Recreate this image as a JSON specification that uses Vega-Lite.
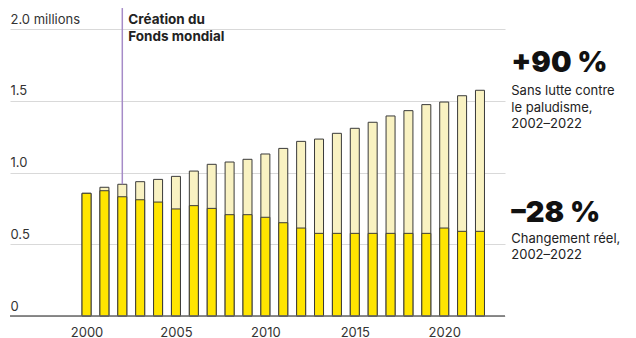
{
  "$schema": "https://vega.github.io/schema/vega-lite/v6.json",
  "width": 495,
  "height": 287,
  "autosize": {"type": "none"},
  "padding": {"left": 10, "top": 29, "right": 131, "bottom": 22},
  "background": "white",
  "config": {
    "view": {"stroke": null},
    "font": "Inter",
    "axis": {"labelFont": "Inter", "titleFont": "Inter"}
  },
  "datasets": {
    "bars": [
      {"year": 2000, "sans": 0.855, "reel": 0.855},
      {"year": 2001, "sans": 0.897, "reel": 0.873},
      {"year": 2002, "sans": 0.918, "reel": 0.831},
      {"year": 2003, "sans": 0.936, "reel": 0.81},
      {"year": 2004, "sans": 0.952, "reel": 0.794},
      {"year": 2005, "sans": 0.973, "reel": 0.746},
      {"year": 2006, "sans": 1.01, "reel": 0.769},
      {"year": 2007, "sans": 1.057, "reel": 0.75},
      {"year": 2008, "sans": 1.073, "reel": 0.706},
      {"year": 2009, "sans": 1.092, "reel": 0.706},
      {"year": 2010, "sans": 1.129, "reel": 0.688},
      {"year": 2011, "sans": 1.168, "reel": 0.65},
      {"year": 2012, "sans": 1.217, "reel": 0.613},
      {"year": 2013, "sans": 1.233, "reel": 0.576},
      {"year": 2014, "sans": 1.273, "reel": 0.576},
      {"year": 2015, "sans": 1.308, "reel": 0.576},
      {"year": 2016, "sans": 1.35, "reel": 0.576},
      {"year": 2017, "sans": 1.394, "reel": 0.576},
      {"year": 2018, "sans": 1.431, "reel": 0.576},
      {"year": 2019, "sans": 1.473, "reel": 0.576},
      {"year": 2020, "sans": 1.491, "reel": 0.613},
      {"year": 2021, "sans": 1.535, "reel": 0.59},
      {"year": 2022, "sans": 1.573, "reel": 0.59}
    ],
    "event": [
      {"year": 2002, "top": 2.146, "bottom": 0.918, "label": "Création du\nFonds mondial"}
    ],
    "big": [
      {"x": 2023.75, "y": 1.7, "label": "+90 %"},
      {"x": 2023.75, "y": 0.655, "label": "–28 %"}
    ],
    "small": [
      {"x": 2023.75, "y": 1.54, "label": "Sans lutte contre\nle paludisme,\n2002–2022"},
      {"x": 2023.75, "y": 0.51, "label": "Changement réel,\n2002–2022"}
    ]
  },
  "layer": [
    {
      "data": {"name": "bars"},
      "mark": {"type": "bar", "size": 9, "fill": "#f9f2c2", "stroke": "#3a3a3a", "strokeWidth": 1},
      "encoding": {
        "x": {
          "field": "year", "type": "quantitative",
          "scale": {"domain": [1996, 2023.12], "nice": false, "zero": false},
          "axis": {
            "title": null, "values": [2000, 2005, 2010, 2015, 2020], "format": "d",
            "grid": false, "ticks": false, "domain": false,
            "labelFontSize": 13, "labelColor": "#333", "labelPadding": 10
          }
        },
        "y": {
          "field": "sans", "type": "quantitative",
          "scale": {"domain": [0, 2], "nice": false},
          "axis": {
            "title": null, "values": [0, 0.5, 1, 1.5, 2],
            "labelExpr": "datum.value == 0 ? '0' : datum.value == 2 ? '2.0 millions' : format(datum.value, '.1f')",
            "grid": true, "gridColor": "#d9d9d9", "gridWidth": 1,
            "domain": false, "ticks": false, "tickSize": 0,
            "labelAlign": "left", "labelBaseline": "bottom", "labelPadding": 0,
            "labelOffset": -3, "labelFontSize": 13, "labelColor": "#333"
          }
        }
      }
    },
    {
      "data": {"name": "bars"},
      "mark": {"type": "bar", "size": 9, "fill": "#ffe500", "stroke": "#3a3a3a", "strokeWidth": 1},
      "encoding": {
        "x": {"field": "year", "type": "quantitative"},
        "y": {"field": "reel", "type": "quantitative"}
      }
    },
    {
      "data": {"values": [{"y": 0}]},
      "mark": {"type": "rule", "color": "#666", "strokeWidth": 1.5},
      "encoding": {
        "y": {"field": "y", "type": "quantitative"}
      }
    },
    {
      "data": {"name": "event"},
      "mark": {"type": "rule", "color": "#a68bc8", "strokeWidth": 1.5},
      "encoding": {
        "x": {"field": "year", "type": "quantitative"},
        "y": {"field": "top", "type": "quantitative"},
        "y2": {"field": "bottom"}
      }
    },
    {
      "data": {"name": "event"},
      "mark": {"type": "text", "align": "left", "baseline": "alphabetic", "dx": 6, "dy": 16, "fontSize": 13.5, "fontWeight": "bold", "lineBreak": "\n", "lineHeight": 17, "color": "#222"},
      "encoding": {
        "x": {"field": "year", "type": "quantitative"},
        "y": {"field": "top", "type": "quantitative"},
        "text": {"field": "label"}
      }
    },
    {
      "data": {"name": "big"},
      "mark": {"type": "text", "align": "left", "baseline": "alphabetic", "fontSize": 29, "fontWeight": 900, "color": "#111"},
      "encoding": {
        "x": {"field": "x", "type": "quantitative"},
        "y": {"field": "y", "type": "quantitative"},
        "text": {"field": "label"}
      }
    },
    {
      "data": {"name": "small"},
      "mark": {"type": "text", "align": "left", "baseline": "alphabetic", "fontSize": 13, "lineBreak": "\n", "lineHeight": 16.5, "color": "#222"},
      "encoding": {
        "x": {"field": "x", "type": "quantitative"},
        "y": {"field": "y", "type": "quantitative"},
        "text": {"field": "label"}
      }
    }
  ]
}
